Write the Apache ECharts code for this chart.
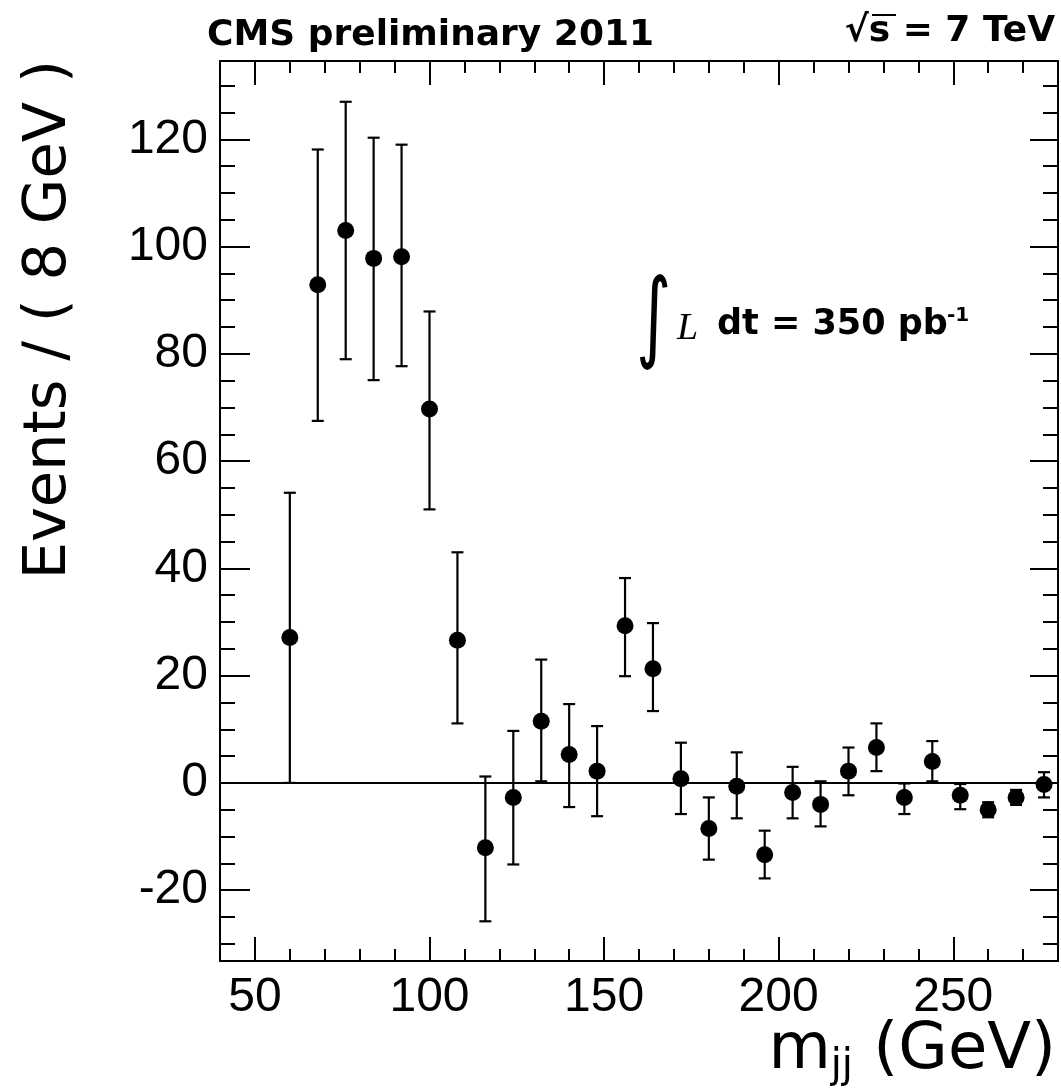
<!DOCTYPE html>
<html>
<head>
<meta charset="utf-8">
<script src="https://cdn.jsdelivr.net/npm/echarts@6/dist/echarts.min.js"></script>
<style>html,body{margin:0;padding:0;background:#fff}#c{width:1061px;height:1091px}</style>
</head>
<body>
<div id="c"></div>
<script>
// Bin centres (GeV)
const binCenters = [60, 68, 76, 84, 92, 100, 108, 116, 124, 132, 140, 148, 156, 164, 172, 180, 188, 196, 204, 212, 220, 228, 236, 244, 252, 260, 268, 276];
// Events per bin
const events = [27.1, 92.9, 103.0, 97.8, 98.1, 69.7, 26.6, -12.1, -2.7, 11.5, 5.3, 2.2, 29.3, 21.3, 0.8, -8.5, -0.6, -13.4, -1.8, -4.0, 2.2, 6.6, -2.7, 4.0, -2.3, -5.0, -2.7, -0.3];
// Error bar upper ends
const errHigh = [54.1, 118.1, 127.0, 120.3, 119.0, 87.9, 43.0, 1.2, 9.7, 23.0, 14.7, 10.6, 38.2, 29.8, 7.5, -2.7, 5.7, -8.9, 3.0, 0.3, 6.6, 11.1, -0.1, 7.8, -0.2, -3.6, -1.3, 2.0];
// Error bar lower ends
const errLow = [0, 67.5, 79.0, 75.1, 77.7, 51.0, 11.1, -25.8, -15.2, 0.3, -4.5, -6.2, 19.9, 13.4, -5.8, -14.3, -6.6, -17.8, -6.6, -8.1, -2.3, 2.2, -5.8, 0.3, -4.9, -6.4, -4.1, -2.7];
// Tick values
const xMajorTicks = [50, 100, 150, 200, 250];
const xMinorTicks = [60, 70, 80, 90, 110, 120, 130, 140, 160, 170, 180, 190, 210, 220, 230, 240, 260, 270];
const yMajorTicks = [-20, 0, 20, 40, 60, 80, 100, 120];
const yMinorTicks = [-30, -25, -15, -10, -5, 5, 10, 15, 25, 30, 35, 45, 50, 55, 65, 70, 75, 85, 90, 95, 105, 110, 115, 125, 130];

const LINE = {color: '#000', width: 2};
const labelFont = {fontFamily: 'Liberation Sans', fontSize: 48, color: '#000'};

function axis(extra) {
  return Object.assign({
    type: 'value',
    axisLine: {show: false, onZero: false, lineStyle: LINE},
    splitLine: {show: false},
    axisLabel: {show: false},
    axisTick: {show: false}
  }, extra);
}

const chart = echarts.init(document.getElementById('c'), null, {renderer: 'canvas'});
const option = {
  animation: false,
  backgroundColor: '#fff',
  grid: {left: 220, right: 3, top: 61, bottom: 130, containLabel: false},
  xAxis: [
    axis({min: 40, max: 280, position: 'bottom',
      axisLine: {show: true, onZero: false, lineStyle: LINE},
      axisTick: {show: true, inside: true, length: 24, lineStyle: LINE, customValues: xMajorTicks},
      axisLabel: Object.assign({show: true, margin: 13, customValues: xMajorTicks}, labelFont)}),
    axis({min: 40, max: 280, position: 'bottom',
      axisTick: {show: true, inside: true, length: 12, lineStyle: LINE, customValues: xMinorTicks}}),
    axis({min: 40, max: 280, position: 'top',
      axisLine: {show: true, onZero: false, lineStyle: LINE},
      axisTick: {show: true, inside: true, length: 24, lineStyle: LINE, customValues: xMajorTicks}}),
    axis({min: 40, max: 280, position: 'top',
      axisTick: {show: true, inside: true, length: 12, lineStyle: LINE, customValues: xMinorTicks}})
  ],
  yAxis: [
    axis({min: -33.2, max: 134.6, position: 'left',
      axisLine: {show: true, onZero: false, lineStyle: LINE},
      axisTick: {show: true, inside: true, length: 30, lineStyle: LINE, customValues: yMajorTicks},
      axisLabel: Object.assign({show: true, margin: 12, customValues: yMajorTicks}, labelFont)}),
    axis({min: -33.2, max: 134.6, position: 'left',
      axisTick: {show: true, inside: true, length: 15, lineStyle: LINE, customValues: yMinorTicks}}),
    axis({min: -33.2, max: 134.6, position: 'right',
      axisLine: {show: true, onZero: false, lineStyle: LINE},
      axisTick: {show: true, inside: true, length: 28, lineStyle: LINE, customValues: yMajorTicks}}),
    axis({min: -33.2, max: 134.6, position: 'right',
      axisTick: {show: true, inside: true, length: 15, lineStyle: LINE, customValues: yMinorTicks}})
  ],
  series: [
    {
      type: 'custom',
      xAxisIndex: 0, yAxisIndex: 0,
      silent: true,
      data: binCenters.map((x, i) => [x, errLow[i], errHigh[i]]),
      renderItem: function (params, api) {
        const x = api.value(0);
        const top = api.coord([x, api.value(2)]);
        const bot = api.coord([x, api.value(1)]);
        const cw = 6;
        const st = {stroke: '#000', lineWidth: 2.2};
        return {
          type: 'group',
          children: [
            {type: 'line', shape: {x1: top[0], y1: top[1], x2: bot[0], y2: bot[1]}, style: st},
            {type: 'line', shape: {x1: top[0] - cw, y1: top[1], x2: top[0] + cw, y2: top[1]}, style: st},
            {type: 'line', shape: {x1: bot[0] - cw, y1: bot[1], x2: bot[0] + cw, y2: bot[1]}, style: st}
          ]
        };
      },
      z: 3
    },
    {
      type: 'scatter',
      xAxisIndex: 0, yAxisIndex: 0,
      symbol: 'circle',
      symbolSize: 17,
      itemStyle: {color: '#000', opacity: 1},
      data: binCenters.map((x, i) => [x, events[i]]),
      markLine: {
        silent: true,
        symbol: 'none',
        label: {show: false},
        lineStyle: {color: '#000', width: 2, type: 'solid', opacity: 1},
        data: [{yAxis: 0}]
      },
      z: 4
    }
  ],
  graphic: [
    {type: 'text', left: 207, top: 18,
      style: {text: 'CMS preliminary 2011', font: 'bold 36px "DejaVu Sans"', fill: '#000'}},
    {type: 'text', right: 6, top: 14,
      style: {text: '√s = 7 TeV', font: 'bold 36px "DejaVu Sans"', fill: '#000'}},
    {type: 'line', shape: {x1: 872, y1: 15, x2: 896, y2: 15}, style: {stroke: '#000', lineWidth: 2}},
    {type: 'text', x: 636, y: 274, scaleX: 0.75, scaleY: 1.1,
      style: {text: '∫', font: '90px "DejaVu Sans"', fill: '#000'}},
    {type: 'text', x: 677, y: 310,
      style: {text: 'L', font: 'italic 38px "Liberation Serif"', fill: '#000'}},
    {type: 'text', x: 717, y: 307,
      style: {text: 'dt = 350 pb', font: 'bold 35px "DejaVu Sans"', fill: '#000'}},
    {type: 'text', x: 947, y: 306,
      style: {text: '-1', font: 'bold 20px "DejaVu Sans"', fill: '#000'}},
    {type: 'text', x: 50, y: 60, rotation: Math.PI / 2,
      style: {text: 'Events / ( 8 GeV )', font: '59px "DejaVu Sans"', fill: '#000',
        align: 'right', verticalAlign: 'middle'}},
    {type: 'text', right: 5, top: 1019,
      style: {
        text: '{m|m}{s|jj}{m| (GeV)}',
        rich: {
          m: {fontFamily: 'DejaVu Sans', fontSize: 64, color: '#000'},
          s: {fontFamily: 'DejaVu Sans', fontSize: 40, color: '#000', padding: [32, 0, 0, 0]}
        }
      }}
  ]
};
chart.setOption(option);
</script>
</body>
</html>
